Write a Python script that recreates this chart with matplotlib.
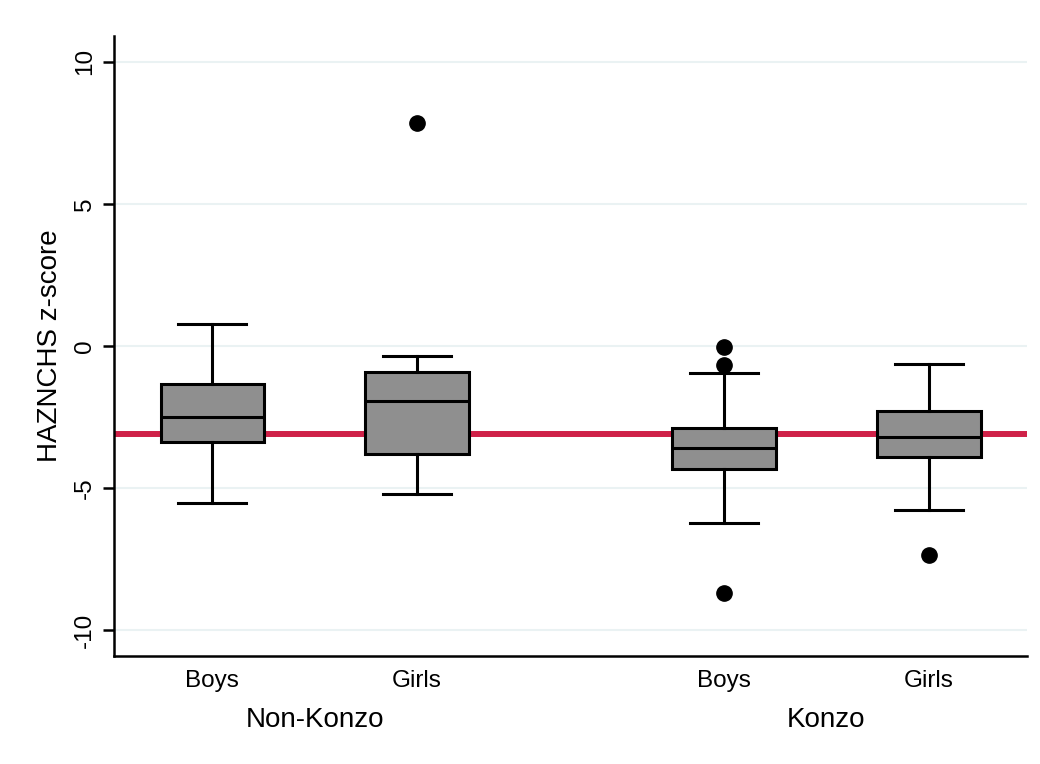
import matplotlib
matplotlib.use('Agg')
import matplotlib.pyplot as plt

plt.rcParams['font.family'] = ['Liberation Sans', 'DejaVu Sans']

# 箱线图统计量
groups = ['Boys', 'Girls', 'Boys', 'Girls']
group_names = ['Non-Konzo', 'Konzo']
whis_hi = [0.78, -0.35, -0.95, -0.64]
q3 = [-1.35, -0.91, -2.87, -2.28]
medians = [-2.51, -1.92, -3.58, -3.19]
q1 = [-3.39, -3.81, -4.33, -3.90]
whis_lo = [-5.53, -5.21, -6.23, -5.77]
outliers = [[], [7.84], [-0.04, -0.67, -8.67], [-7.35]]
ref_line = -3.10

positions = [1, 2, 3.5, 4.5]

stats = []
for i in range(4):
    stats.append({'med': medians[i], 'q1': q1[i], 'q3': q3[i],
                  'whislo': whis_lo[i], 'whishi': whis_hi[i],
                  'fliers': outliers[i], 'label': groups[i]})

fig = plt.figure(figsize=(10.4, 7.64), dpi=100)
ax = fig.add_axes([0.1096, 0.1414, 0.878, 0.8115])

for y in [-10, -5, 0, 5, 10]:
    ax.axhline(y, color='#eaf2f3', lw=1.5, zorder=0)
ax.axhline(ref_line, color='#cf2148', lw=4.3, zorder=1)

ax.bxp(stats, positions=positions, widths=0.505, capwidths=0.333,
       patch_artist=True, showfliers=True,
       boxprops=dict(facecolor='#8f8f8f', edgecolor='black', linewidth=2.2),
       medianprops=dict(color='black', linewidth=2.2),
       whiskerprops=dict(color='black', linewidth=2.2),
       capprops=dict(color='black', linewidth=2.2),
       flierprops=dict(marker='o', markerfacecolor='black',
                       markeredgecolor='black', markersize=11),
       zorder=3)

ax.set_xlim(0.52, 4.98)
ax.set_ylim(-10.9, 10.9)
ax.set_yticks([-10, -5, 0, 5, 10])
ax.set_yticklabels(['-10', '-5', '0', '5', '10'], rotation=90, va='center')
ax.tick_params(axis='y', length=8, width=1.8, labelsize=17.5, pad=5)
ax.tick_params(axis='x', length=0, labelsize=17.5, pad=10)
ax.set_xticks(positions)
ax.set_xticklabels(groups)
ax.set_ylabel('HAZNCHS z-score', fontsize=20, labelpad=8)

for s in ['top', 'right']:
    ax.spines[s].set_visible(False)
ax.spines['left'].set_linewidth(1.8)
ax.spines['bottom'].set_linewidth(1.8)

# 分组标签
ax.text((positions[0] + positions[1]) / 2, -0.103, group_names[0],
        transform=ax.get_xaxis_transform(), ha='center', va='center', fontsize=20)
ax.text((positions[2] + positions[3]) / 2, -0.103, group_names[1],
        transform=ax.get_xaxis_transform(), ha='center', va='center', fontsize=20)

plt.savefig('out.png', dpi=100)
